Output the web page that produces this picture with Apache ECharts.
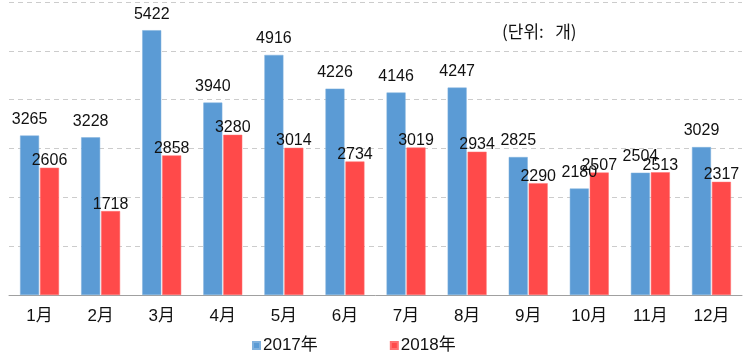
<!DOCTYPE html>
<html><head><meta charset="utf-8">
<script src="https://cdn.jsdelivr.net/npm/echarts@6/dist/echarts.min.js"></script>
<style>html,body{margin:0;padding:0;background:#fff}#c{width:750px;height:352px}</style>
</head><body><div id="c"></div>
<script>
const categories = ['1月','2月','3月','4月','5月','6月','7月','8月','9月','10月','11月','12月'];
const seriesNames = ['2017年','2018年'];
const values2017 = [3265,3228,5422,3940,4916,4226,4146,4247,2825,2180,2504,3029];
const values2018 = [2606,1718,2858,3280,3014,2734,3019,2934,2290,2507,2513,2317];
const unitText = '(단위:   개)';

const font = "'Liberation Sans', Arial, 'Noto Sans CJK KR', sans-serif";
const chart = echarts.init(document.getElementById('c'));
chart.setOption({
  animation: false,
  grid: {left: 9, right: 8, top: 2, bottom: 57, containLabel: false},
  graphic: [{type:'text', left: 502, top: 23, style:{text: unitText, font: "17px 'Noto Sans CJK KR', sans-serif", fill:'#111'}}],
  legend: {
    top: 332, left: 247, itemWidth: 7, itemHeight: 7, itemGap: 72, icon: 'rect',
    textStyle: {fontSize: 17, fontFamily: font, color: '#111', padding: [0,0,0,-2]},
    data: seriesNames
  },
  xAxis: {
    type: 'category', data: categories,
    axisLine: {lineStyle: {color: '#a0a0a0', width: 1}},
    axisTick: {inside: true, length: 5, lineStyle: {color: '#a0a0a0'}},
    axisLabel: {fontSize: 17, color: '#111', fontFamily: font, margin: 13}
  },
  yAxis: {
    type: 'value', min: 0, max: 6000, interval: 1000,
    axisLine: {show: false}, axisTick: {show: false}, axisLabel: {show: false},
    splitLine: {lineStyle: {type: [5,4], color: '#cccccc', width: 1}}
  },
  series: [
    {name: seriesNames[0], type: 'bar', data: values2017, barWidth: 19, barGap: '5%',
     itemStyle: {color: '#5b9bd5', borderColor: '#7fb0dd', borderWidth: 0.5},
     label: {show: true, position: 'top', distance: 8, fontSize: 16, color: '#111', fontFamily: font}},
    {name: seriesNames[1], type: 'bar', data: values2018, barWidth: 19,
     itemStyle: {color: '#ff4a4a', borderColor: '#ff7070', borderWidth: 0.5},
     label: {show: true, position: 'top', distance: -1, fontSize: 16, color: '#111', fontFamily: font}}
  ]
});
</script></body></html>
